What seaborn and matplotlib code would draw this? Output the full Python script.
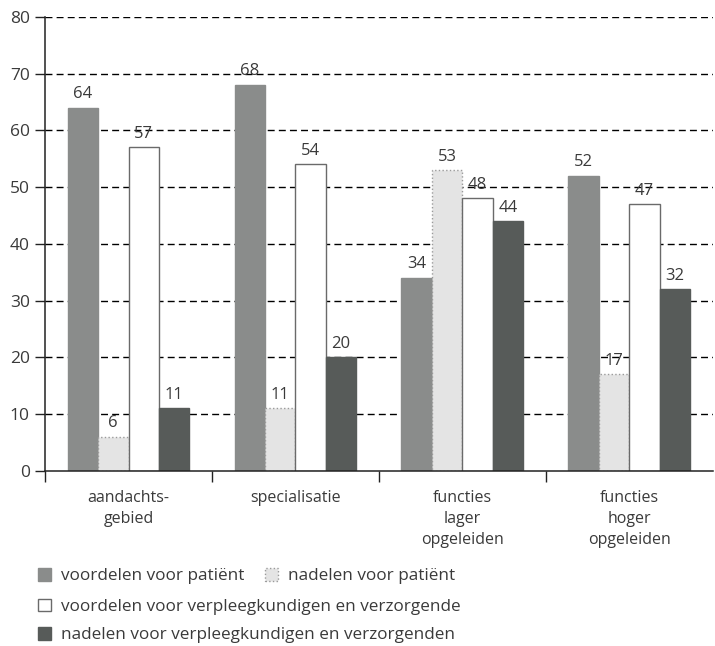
import matplotlib
matplotlib.use("Agg")
import matplotlib.pyplot as plt
from matplotlib.patches import Patch
import numpy as np
import pandas as pd
import seaborn as sns

groepen = ["aandachts-\ngebied", "specialisatie", "functies\nlager\nopgeleiden", "functies\nhoger\nopgeleiden"]
reeksen = [
    "voordelen voor patiënt",
    "nadelen voor patiënt",
    "voordelen voor verpleegkundigen en verzorgende",
    "nadelen voor verpleegkundigen en verzorgenden",
]
voordelen_patient = [64, 68, 34, 52]
nadelen_patient = [6, 11, 53, 17]
voordelen_verpleeg = [57, 54, 48, 47]
nadelen_verpleeg = [11, 20, 44, 32]
y_ticks = [0, 10, 20, 30, 40, 50, 60, 70, 80]

waarden = [voordelen_patient, nadelen_patient, voordelen_verpleeg, nadelen_verpleeg]
df = pd.DataFrame(
    [(g, r, v) for r, vals in zip(reeksen, waarden) for g, v in zip(groepen, vals)],
    columns=["groep", "reeks", "waarde"],
)

kleuren = ["#8a8c8b", "#e4e4e4", "#ffffff", "#575b59"]
randen = ["#8a8c8b", "#9a9a9a", "#6a6a6a", "#575b59"]
randstijl = ["-", ":", "-", "-"]
tekstkleur = "#3a3a3a"

sns.set_style("ticks")
plt.rcParams["font.family"] = ["Open Sans", "DejaVu Sans"]

fig = plt.figure(figsize=(7.15, 6.46), dpi=100)
ax = fig.add_axes([0.063, 0.271, 0.934, 0.703])

sns.barplot(
    data=df, x="groep", y="waarde", hue="reeks", hue_order=reeksen, order=groepen,
    palette=kleuren, saturation=1, width=0.73, legend=False, ax=ax, errorbar=None,
)

for cont, ec, ls in zip(ax.containers, randen, randstijl):
    for bar in cont:
        bar.set_edgecolor(ec)
        bar.set_linestyle(ls)
        bar.set_linewidth(1.0)
    ax.bar_label(cont, fmt="%d", padding=4, fontsize=12, color=tekstkleur)

ax.set_xlim(-0.5, 3.5)
ax.set_ylim(0, 80)
ax.set_yticks(y_ticks)
ax.set_axisbelow(True)
ax.yaxis.grid(True, color="black", linestyle=(0, (5, 3)), linewidth=1.0)
ax.get_ygridlines()[0].set_visible(False)
ax.xaxis.grid(False)

ax.set_xlabel("")
ax.set_ylabel("")
ax.tick_params(axis="y", labelsize=12.5, labelcolor=tekstkleur, length=7, width=1, color="#222222", pad=4)
ax.tick_params(axis="x", which="major", length=0, labelsize=11.5, labelcolor=tekstkleur, pad=14)
ax.set_xticks([-0.5, 0.5, 1.5, 2.5], minor=True)
ax.tick_params(axis="x", which="minor", length=8, width=1, color="#222222")
for lbl in ax.get_xticklabels():
    lbl.set_verticalalignment("top")
    lbl.set_linespacing(1.42)

for side in ["top", "right"]:
    ax.spines[side].set_visible(False)
for side in ["left", "bottom"]:
    ax.spines[side].set_color("#222222")
    ax.spines[side].set_linewidth(1.1)
    ax.spines[side].set_zorder(5)

handles = [
    Patch(facecolor=fc, edgecolor=ec, linestyle=ls, linewidth=1.0)
    for fc, ec, ls in zip(kleuren, randen, randstijl)
]
leg_kw = dict(frameon=False, fontsize=12.3, handlelength=0.75, handleheight=0.75,
              handletextpad=0.6, borderpad=0, borderaxespad=0, labelcolor=tekstkleur)
leg1 = fig.legend(handles[:2], reeksen[:2], ncol=2, columnspacing=1.2,
                  loc="center left", bbox_to_anchor=(0.053, 0.108), **leg_kw)
leg2 = fig.legend(handles[2:], reeksen[2:], ncol=1, labelspacing=0.72,
                  loc="center left", bbox_to_anchor=(0.053, 0.0385), **leg_kw)

fig.savefig("out.png", dpi=100)
